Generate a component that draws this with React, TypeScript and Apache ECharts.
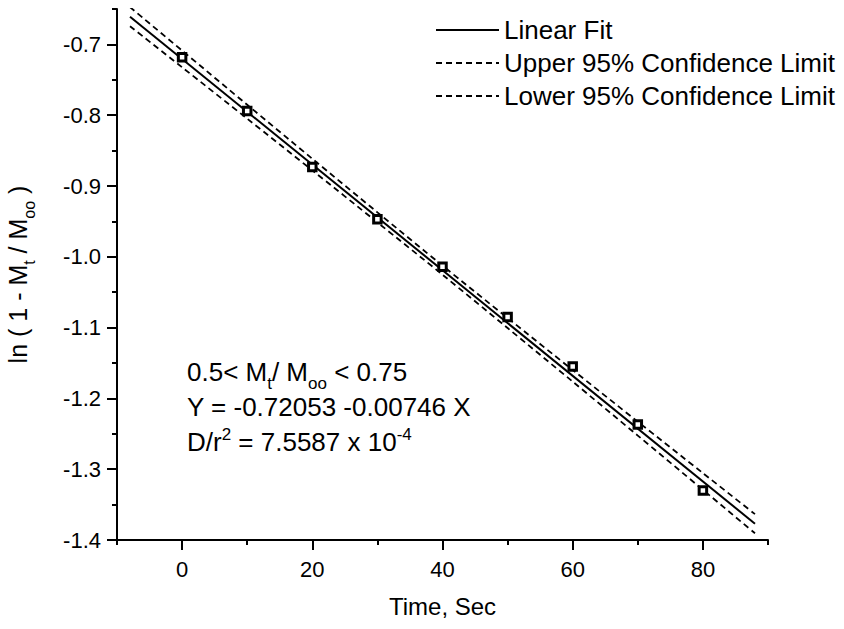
import React, { useEffect, useRef } from "react";
import * as echarts from "echarts";

// Measured data points (Time, Sec vs ln(1 - Mt/Moo))
const timeSec = [0, 10, 20, 30, 40, 50, 60, 70, 80];
const lnValues = [-0.718, -0.794, -0.873, -0.947, -1.014, -1.085, -1.155, -1.237, -1.33];

// Linear fit line end points
const fitX = [-8, 88];
const fitY = [-0.6609, -1.377];

// 95% confidence limits
const bandX = [-8, 0, 10, 20, 30, 40, 50, 60, 70, 80, 88];
const upperY = [-0.6474, -0.7087, -0.7853, -0.8615, -0.9372, -1.0125, -1.0864, -1.1599, -1.2329, -1.3055, -1.3635];
const lowerY = [-0.6744, -0.7323, -0.8049, -0.8779, -0.9514, -1.0253, -1.1006, -1.1763, -1.2525, -1.3291, -1.3905];

// Axis ticks
const xMajorTicks = [0, 20, 40, 60, 80];
const xMinorTicks = [-10, 10, 30, 50, 70, 90];
const yMajorTicks = [-1.4, -1.3, -1.2, -1.1, -1.0, -0.9, -0.8, -0.7];
const yMinorTicks = [-1.35, -1.25, -1.15, -1.05, -0.95, -0.85, -0.75, -0.65];

const seriesNames = ["Linear Fit", "Upper 95% Confidence Limit", "Lower 95% Confidence Limit"];

const FONT = "'Liberation Sans', Arial, Helvetica, sans-serif";

export default function App() {
  const ref = useRef<HTMLDivElement>(null);

  useEffect(() => {
    if (!ref.current) return;
    const chart = echarts.init(ref.current, null, { renderer: "svg" });

    const zip = (xs: number[], ys: number[]) => xs.map((x, i) => [x, ys[i]]);

    const annoRich = {
      m: { fontSize: 26, fontFamily: FONT, fill: "#000", lineHeight: 40 },
      sub: { fontSize: 17, fontFamily: FONT, fill: "#000", verticalAlign: "bottom" },
      sup: { fontSize: 17, fontFamily: FONT, fill: "#000", verticalAlign: "top", padding: [4, 0, 0, 0] },
    };

    const option: any = {
      animation: false,
      backgroundColor: "#fff",
      grid: {
        left: 117,
        top: 9,
        width: 651,
        height: 531,
        containLabel: false,
        outerBoundsMode: "none",
      },
      legend: {
        data: seriesNames,
        orient: "vertical",
        left: 430,
        top: 12,
        itemWidth: 63,
        itemHeight: 14,
        itemGap: 7,
        selectedMode: false,
        itemStyle: { opacity: 0 },
        textStyle: { fontSize: 26, color: "#000", fontFamily: FONT, lineHeight: 26 },
      },
      xAxis: [
        {
          type: "value",
          min: -10,
          max: 90,
          position: "bottom",
          name: "Time, Sec",
          nameLocation: "middle",
          nameGap: 54,
          nameTextStyle: { fontSize: 24, color: "#000", fontFamily: FONT },
          axisLine: { onZero: false, lineStyle: { color: "#000", width: 2 } },
          axisTick: { show: true, customValues: xMajorTicks, length: 10, lineStyle: { color: "#000", width: 2 } },
          axisLabel: {
            customValues: xMajorTicks,
            fontSize: 22,
            color: "#000",
            fontFamily: FONT,
            margin: 18,
            formatter: (v: number) => String(Math.round(v)),
          },
          splitLine: { show: false },
        },
        {
          type: "value",
          min: -10,
          max: 90,
          position: "bottom",
          axisLine: { show: false, onZero: false },
          axisTick: { show: true, customValues: xMinorTicks, length: 5, lineStyle: { color: "#000", width: 2 } },
          axisLabel: { show: false },
          splitLine: { show: false },
        },
      ],
      yAxis: [
        {
          type: "value",
          min: -1.4,
          max: -0.65,
          position: "left",
          name: "{m|ln ( 1 - M}{sub|t}{m| / M}{sub|oo}{m| )}",
          nameLocation: "middle",
          nameGap: 80,
          nameTextStyle: {
            fontSize: 25,
            color: "#000",
            fontFamily: FONT,
            rich: {
              m: { fontSize: 25, color: "#000", fontFamily: FONT, lineHeight: 38 },
              sub: { fontSize: 16, color: "#000", fontFamily: FONT, verticalAlign: "bottom" },
            },
          },
          axisLine: { onZero: false, lineStyle: { color: "#000", width: 2 } },
          axisTick: { show: true, customValues: yMajorTicks, length: 10, lineStyle: { color: "#000", width: 2 } },
          axisLabel: {
            customValues: yMajorTicks,
            fontSize: 22,
            color: "#000",
            fontFamily: FONT,
            margin: 16,
            formatter: (v: number) => v.toFixed(1),
          },
          splitLine: { show: false },
        },
        {
          type: "value",
          min: -1.4,
          max: -0.65,
          position: "left",
          axisLine: { show: false, onZero: false },
          axisTick: { show: true, customValues: yMinorTicks, length: 5, lineStyle: { color: "#000", width: 2 } },
          axisLabel: { show: false },
          splitLine: { show: false },
        },
      ],
      series: [
        {
          name: seriesNames[0],
          type: "line",
          data: zip(fitX, fitY),
          symbol: "none",
          lineStyle: { color: "#000", width: 2, type: "solid" },
          itemStyle: { color: "#000" },
          z: 2,
        },
        {
          name: seriesNames[1],
          type: "line",
          data: zip(bandX, upperY),
          symbol: "none",
          smooth: 0.3,
          lineStyle: { color: "#000", width: 1.8, type: [6, 4] },
          itemStyle: { color: "#000" },
          z: 2,
        },
        {
          name: seriesNames[2],
          type: "line",
          data: zip(bandX, lowerY),
          symbol: "none",
          smooth: 0.3,
          lineStyle: { color: "#000", width: 1.8, type: [6, 4] },
          itemStyle: { color: "#000" },
          z: 2,
        },
        {
          name: "Data",
          type: "scatter",
          data: zip(timeSec, lnValues),
          symbol: "rect",
          symbolSize: 7.5,
          itemStyle: { color: "#fff", borderColor: "#000", borderWidth: 3, opacity: 1 },
          z: 5,
        },
      ],
      graphic: [
        {
          type: "text",
          x: 187,
          y: 372,
          style: {
            text: "{m|0.5< M}{sub|t}{m|/ M}{sub|oo}{m| < 0.75}",
            rich: annoRich,
            verticalAlign: "middle",
            align: "left",
          },
        },
        {
          type: "text",
          x: 187,
          y: 407,
          style: {
            text: "{m|Y = -0.72053 -0.00746 X}",
            rich: annoRich,
            verticalAlign: "middle",
            align: "left",
          },
        },
        {
          type: "text",
          x: 187,
          y: 442,
          style: {
            text: "{m|D/r}{sup|2}{m| = 7.5587 x 10}{sup|-4}",
            rich: annoRich,
            verticalAlign: "middle",
            align: "left",
          },
        },
      ],
    };

    chart.setOption(option);
    return () => chart.dispose();
  }, []);

  return (
    <div
      ref={ref}
      style={{ position: "fixed", left: 0, top: 0, width: 844, height: 629, background: "#fff" }}
    />
  );
}
